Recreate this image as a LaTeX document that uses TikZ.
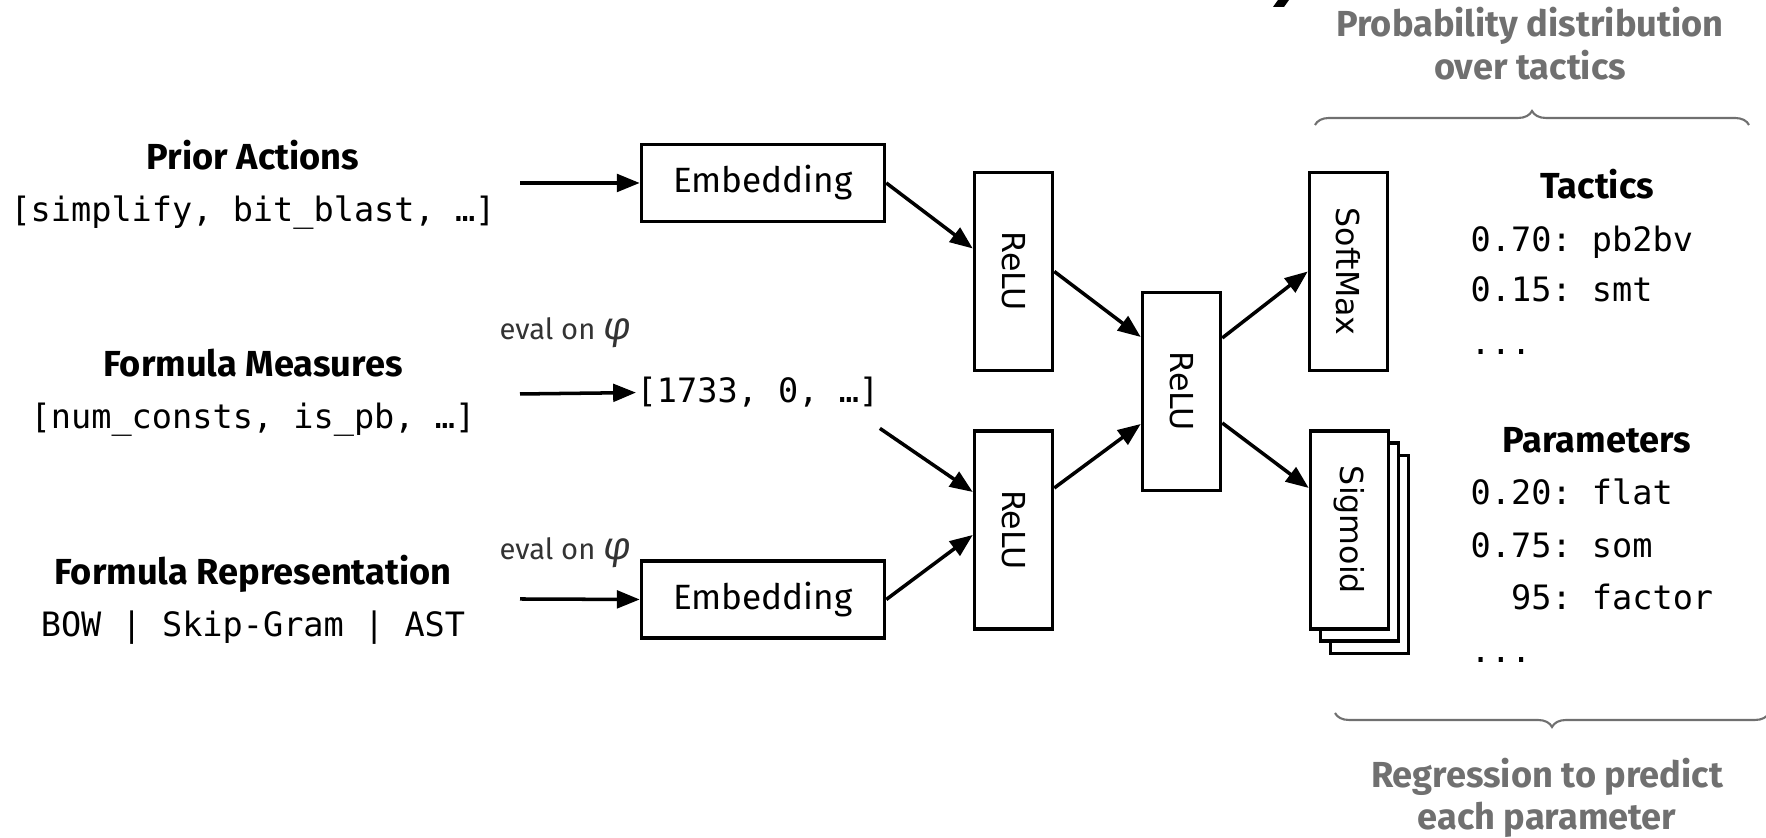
\documentclass[tikz,border=0pt]{standalone}
\usepackage{fontspec}
\usepackage{graphicx}
\setmainfont{Fira Sans}
\setmonofont{DejaVu Sans Mono}
\newfontfamily\boxfont{DejaVu Sans}
\usetikzlibrary{arrows.meta,decorations.pathreplacing}
\definecolor{note}{RGB}{112,112,112}
\newcommand{\layertext}[1]{\rotatebox{-90}{\boxfont\fontsize{9}{10}\selectfont #1}}
\tikzstyle{block}=[draw, line width=1pt, inner sep=0pt, fill=white, font=\fontsize{10}{12}\selectfont]
\tikzstyle{embed}=[block, minimum width=2.43cm, minimum height=0.77cm]
\tikzstyle{layer}=[block, minimum width=0.78cm, minimum height=1.98cm]
\tikzstyle{head}=[inner sep=0pt, anchor=base, font=\bfseries\fontsize{10.3}{12}\selectfont]
\tikzstyle{note}=[head, text=note]
\tikzstyle{code}=[inner sep=0pt, anchor=base, font=\ttfamily\fontsize{9.55}{11}\selectfont]
\tikzstyle{code line}=[code, anchor=base west]
\tikzstyle{eval}=[inner sep=0pt, anchor=base west, text=black!80, font=\fontsize{8.3}{10}\selectfont]
\tikzstyle{flow}=[-{Triangle[length=6.5pt,width=5pt]}, line width=1pt]
\tikzstyle{brace}=[decorate, decoration={brace, amplitude=0.14cm}, draw=note, line width=0.6pt]

\begin{document}
\begin{tikzpicture}
  \useasboundingbox (0,0) rectangle (17.66,8.38);

  %% Inputs
  \draw (2.53,6.68) node[head] (PriorT) {Prior Actions};
  \draw (2.53,6.16) node[code] (PriorV) {[simplify, bit\_blast, …]};
  \draw (2.53,4.61) node[head] (MeasT) {Formula Measures};
  \draw (2.53,4.09) node[code] (MeasV) {[num\_consts, is\_pb, …]};
  \draw (2.53,2.53) node[head] (ReprT) {Formula Representation};
  \draw (2.53,2.01) node[code] (ReprV) {BOW | Skip-Gram | AST};

  \coordinate (inA) at (5.20,6.55);
  \coordinate (inB) at (5.20,4.44);
  \coordinate (inC) at (5.20,2.39);

  \draw (4.99,4.98) node[eval] (EvalA) {eval on {\itshape\fontsize{11}{12}\selectfont φ}};
  \draw (4.99,2.78) node[eval] (EvalB) {eval on {\itshape\fontsize{11}{12}\selectfont φ}};
  \draw (6.36,4.35) node[code line] (Vec) {[1733, 0, …]};

  %% Layers
  \draw (7.63,6.55) node[embed] (EmbA) {Embedding};
  \draw (7.63,2.385) node[embed] (EmbB) {Embedding};
  \draw (10.135,5.665) node[layer] (ReluA) {\layertext{ReLU}};
  \draw (10.135,3.08) node[layer] (ReluB) {\layertext{ReLU}};
  \draw (11.815,4.465) node[layer] (ReluC) {\layertext{ReLU}};
  \draw (13.485,5.665) node[layer] (Soft) {\layertext{SoftMax}};
  \draw (13.695,2.835) node[layer] (SigC) {};
  \draw (13.595,2.96) node[layer] (SigB) {};
  \draw (13.495,3.08) node[layer] (Sig) {\layertext{Sigmoid}};

  \draw[flow] (inA) -- (EmbA.west);
  \draw[flow] (inB) -- (Vec.west);
  \draw[flow] (inC) -- (EmbB.west);

  \draw[flow] (EmbA.east) -- ([yshift=0.23cm]ReluA.west);
  \draw[flow] ([yshift=-0.2cm]Vec.south east) -- ([yshift=0.38cm]ReluB.west);
  \draw[flow] (EmbB.east) -- ([yshift=-0.05cm]ReluB.west);
  \draw[flow] (ReluA.east) -- ([yshift=0.545cm]ReluC.west);
  \draw[flow] ([yshift=0.42cm]ReluB.east) -- ([yshift=-0.325cm]ReluC.west);
  \draw[flow] ([yshift=0.535cm]ReluC.east) -- (Soft.west);
  \draw[flow] ([yshift=-0.315cm]ReluC.east) -- ([yshift=0.42cm]Sig.west);

  %% Outputs
  \draw (15.97,6.39) node[head] (TacT) {Tactics};
  \draw (14.70,5.86) node[code line] (TacA) {0.70: pb2bv};
  \draw (14.70,5.36) node[code line] (TacB) {0.15: smt};
  \draw (14.70,4.83) node[code line] (TacC) {...};
  \draw (15.97,3.85) node[head] (ParT) {Parameters};
  \draw (14.70,3.33) node[code line] (ParA) {0.20: flat};
  \draw (14.70,2.80) node[code line] (ParB) {0.75: som};
  \draw (14.70,2.28) node[code line] (ParC) {\phantom{0.}95: factor};
  \draw (14.70,1.75) node[code line] (ParD) {...};

  %% Braces and notes
  \draw[brace] (13.15,7.13) -- (17.49,7.13);
  \draw[brace] (17.69,1.25) -- (13.35,1.25);
  \draw (15.30,8.01) node[note] (ProbA) {Probability distribution};
  \draw (15.30,7.58) node[note] (ProbB) {over tactics};
  \draw (15.47,0.50) node[note] (RegA) {Regression to predict};
  \draw (15.47,0.08) node[note] (RegB) {each parameter};

  \fill (12.78,8.38) -- (12.89,8.38) -- (12.84,8.31) -- (12.73,8.31) -- cycle;
\end{tikzpicture}
\end{document}
